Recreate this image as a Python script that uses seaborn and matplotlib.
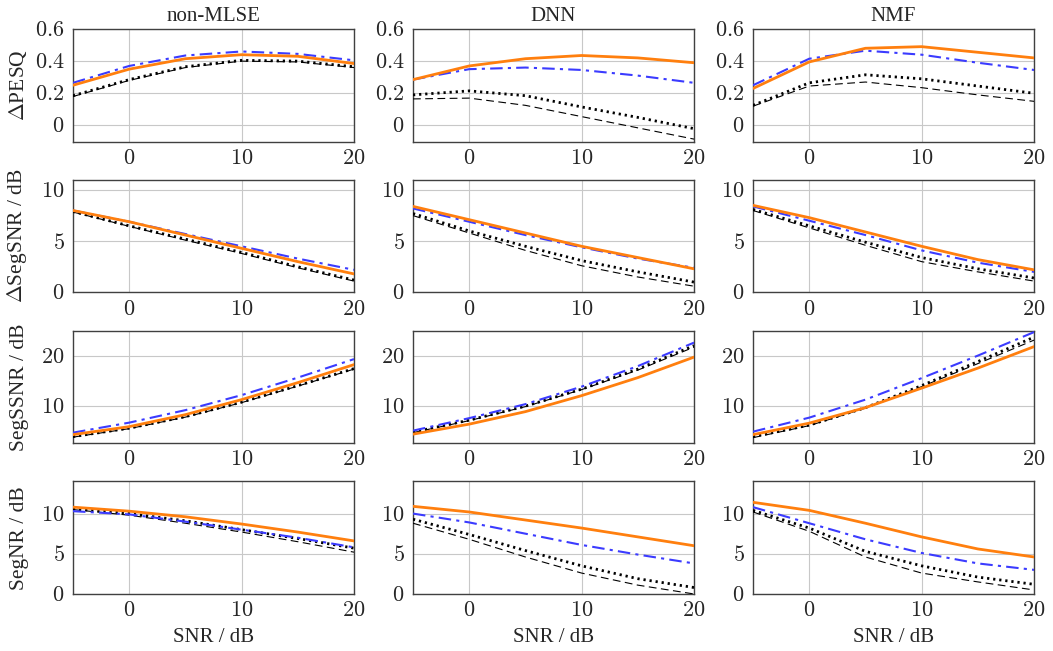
import numpy as np
import pandas as pd
import seaborn as sns
import matplotlib.pyplot as plt

snr = [-5, 0, 5, 10, 15, 20]
methods = ["non-MLSE", "DNN", "NMF"]
ylabels = [r"$\Delta$PESQ", r"$\Delta$SegSNR / dB", "SegSSNR / dB", "SegNR / dB"]

# series order: orange solid, blue dash-dot, black dotted, black dashed
pesq_nonmlse = [[0.25, 0.35, 0.415, 0.44, 0.43, 0.385],
                [0.265, 0.37, 0.435, 0.46, 0.445, 0.405],
                [0.185, 0.285, 0.365, 0.405, 0.40, 0.365],
                [0.18, 0.28, 0.36, 0.40, 0.395, 0.36]]
pesq_dnn = [[0.285, 0.37, 0.415, 0.435, 0.42, 0.39],
            [0.285, 0.35, 0.36, 0.345, 0.31, 0.265],
            [0.19, 0.215, 0.185, 0.115, 0.05, -0.02],
            [0.165, 0.17, 0.125, 0.055, -0.015, -0.085]]
pesq_nmf = [[0.23, 0.395, 0.48, 0.49, 0.455, 0.42],
            [0.25, 0.415, 0.465, 0.44, 0.39, 0.345],
            [0.125, 0.265, 0.315, 0.29, 0.245, 0.2],
            [0.12, 0.245, 0.27, 0.235, 0.19, 0.15]]

dsegsnr_nonmlse = [[8.0, 6.9, 5.6, 4.3, 3.0, 1.8],
                   [8.0, 6.9, 5.7, 4.5, 3.3, 2.2],
                   [7.9, 6.5, 5.2, 3.9, 2.5, 1.2],
                   [7.85, 6.45, 5.1, 3.8, 2.4, 1.1]]
dsegsnr_dnn = [[8.4, 7.1, 5.8, 4.5, 3.4, 2.3],
               [8.2, 6.9, 5.6, 4.4, 3.3, 2.4],
               [7.7, 6.0, 4.5, 3.1, 2.0, 1.0],
               [7.5, 5.8, 4.1, 2.6, 1.5, 0.6]]
dsegsnr_nmf = [[8.5, 7.3, 5.9, 4.5, 3.2, 2.2],
               [8.4, 7.0, 5.6, 4.1, 2.9, 2.0],
               [8.1, 6.5, 4.9, 3.4, 2.3, 1.4],
               [8.0, 6.3, 4.6, 3.0, 2.0, 1.1]]

segssnr_nonmlse = [[4.2, 5.8, 8.2, 11.2, 14.6, 18.2],
                   [4.6, 6.6, 9.1, 12.1, 15.6, 19.3],
                   [3.8, 5.5, 7.8, 10.7, 14.0, 17.4],
                   [3.7, 5.4, 7.7, 10.6, 13.9, 17.3]]
segssnr_dnn = [[4.3, 6.3, 8.8, 12.0, 15.6, 19.7],
               [5.0, 7.5, 10.3, 13.8, 17.9, 22.6],
               [4.7, 7.1, 9.9, 13.3, 17.3, 22.0],
               [4.6, 7.0, 9.8, 13.2, 17.1, 21.7]]
segssnr_nmf = [[4.2, 6.5, 9.6, 13.5, 17.5, 21.8],
               [4.8, 7.6, 11.2, 15.5, 20.0, 24.7],
               [3.8, 6.1, 9.6, 14.0, 18.8, 23.7],
               [3.6, 6.0, 9.5, 13.8, 18.4, 23.1]]

segnr_nonmlse = [[10.8, 10.3, 9.6, 8.7, 7.7, 6.6],
                 [10.3, 9.9, 9.0, 8.0, 7.0, 5.8],
                 [10.6, 10.0, 9.1, 8.0, 6.9, 5.7],
                 [10.5, 9.8, 8.8, 7.7, 6.5, 5.2]]
segnr_dnn = [[10.9, 10.2, 9.2, 8.2, 7.1, 6.0],
             [10.0, 8.9, 7.5, 6.1, 4.9, 3.8],
             [9.3, 7.4, 5.4, 3.5, 1.9, 0.8],
             [8.8, 6.8, 4.6, 2.6, 1.1, 0.0]]
segnr_nmf = [[11.4, 10.4, 8.8, 7.1, 5.6, 4.6],
             [10.8, 8.8, 6.8, 5.1, 3.8, 3.0],
             [10.4, 8.2, 5.3, 3.5, 2.1, 1.2],
             [10.2, 7.8, 4.6, 2.6, 1.5, 0.5]]

panels = [[pesq_nonmlse, pesq_dnn, pesq_nmf],
          [dsegsnr_nonmlse, dsegsnr_dnn, dsegsnr_nmf],
          [segssnr_nonmlse, segssnr_dnn, segssnr_nmf],
          [segnr_nonmlse, segnr_dnn, segnr_nmf]]

ylims = [(-0.1, 0.6), (0, 11), (2.5, 25), (0, 14)]
yticks = [[0, 0.2, 0.4, 0.6], [0, 5, 10], [10, 20], [0, 5, 10]]
xticks = [0, 10, 20]

styles = [dict(color="#ff7f0e", lw=2.0, dashes=None),
          dict(color="#3b3bff", lw=1.5, dashes=(6, 2.5, 1.5, 2.5)),
          dict(color="black", lw=2.0, dashes=(0.8, 1.4)),
          dict(color="black", lw=0.8, dashes=(7, 4))]

sns.set_style("white")
plt.rcParams["font.family"] = ["Liberation Serif", "DejaVu Serif"]
plt.rcParams["mathtext.fontset"] = "cm"

fig, axes = plt.subplots(4, 3, figsize=(10.53, 6.51), dpi=100)
fig.subplots_adjust(left=0.0693, right=0.982, top=0.9555, bottom=0.0876,
                    wspace=0.21, hspace=0.34)

for r in range(4):
    for c in range(3):
        ax = axes[r, c]
        for k, vals in enumerate(panels[r][c]):
            st = styles[k]
            df = pd.DataFrame({"snr": snr, "val": vals})
            sns.lineplot(data=df, x="snr", y="val", ax=ax, color=st["color"],
                         lw=st["lw"], legend=False)
            l = ax.lines[-1]
            if st["dashes"] is not None:
                l.set_dashes(st["dashes"])
            l.set_zorder(4 if k == 0 else 3 - k * 0.1)
        ax.set_xlim(-5, 20)
        ax.set_ylim(*ylims[r])
        ax.set_xticks(xticks)
        ax.set_xticklabels([f"${t:g}$" for t in xticks])
        ax.set_yticks(yticks[r])
        ax.set_yticklabels([f"${t:g}$" for t in yticks[r]])
        ax.grid(True, color="#c8c8c8", lw=0.8)
        ax.set_axisbelow(True)
        ax.tick_params(labelsize=16, direction="in", length=3, color="#404040", pad=6)
        for s in ax.spines.values():
            s.set_color("#404040")
            s.set_linewidth(1.0)
        ax.set_xlabel("SNR / dB" if r == 3 else "", fontsize=15, labelpad=5)
        ax.set_ylabel(ylabels[r] if c == 0 else "", fontsize=15.5)
        if r == 0:
            ax.set_title(methods[c], fontsize=15, pad=6)

fig.align_ylabels(axes[:, 0])
fig.savefig("out.png", dpi=100, facecolor="white")
